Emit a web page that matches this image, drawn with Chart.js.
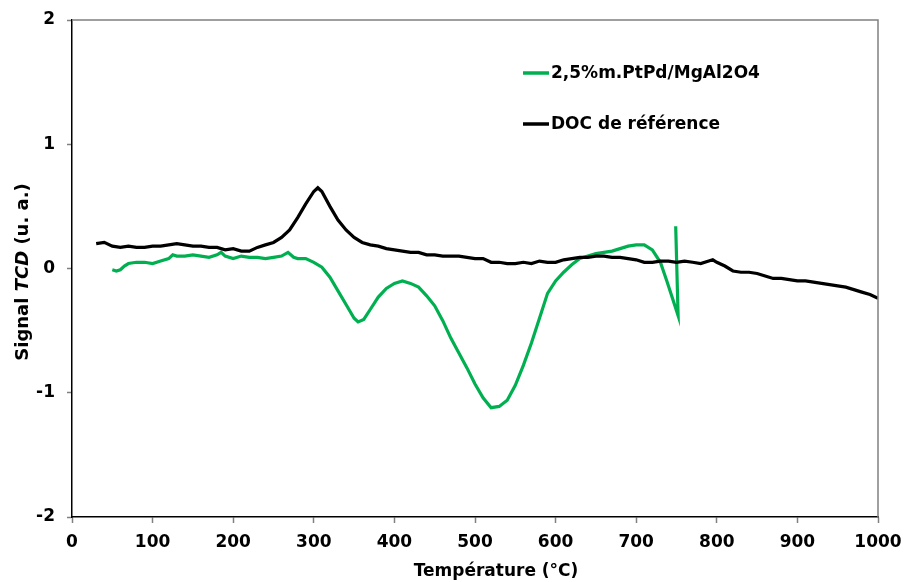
<!DOCTYPE html>
<html>
<head>
<meta charset="utf-8">
<script src="https://cdn.jsdelivr.net/npm/chart.js@4.4.0/dist/chart.umd.min.js"></script>
<style>
  html, body { margin: 0; padding: 0; background: #ffffff; }
  #wrap { width: 904px; height: 582px; position: relative; }
</style>
</head>
<body>
<div id="wrap"><canvas id="myChart"></canvas></div>
<script>
// values
var docTemp = [30, 40, 50, 60, 70, 80, 90, 100, 110, 120, 130, 140, 150, 160, 170, 180, 190, 200,
  210, 220, 230, 240, 250, 260, 270, 280, 290, 300, 305, 310, 320, 330, 340, 350, 360, 370, 380,
  390, 400, 410, 420, 430, 440, 450, 460, 470, 480, 490, 500, 510, 520, 530, 540, 550, 560, 570,
  580, 590, 600, 610, 620, 630, 640, 650, 660, 670, 680, 690, 700, 710, 720, 730, 740, 750, 760,
  770, 780, 790, 795, 800, 810, 820, 830, 840, 850, 860, 870, 880, 890, 900, 910, 920, 930, 940,
  950, 960, 970, 980, 990, 1000];
var docSignal = [0.20, 0.21, 0.18, 0.17, 0.18, 0.17, 0.17, 0.18, 0.18, 0.19, 0.20, 0.19, 0.18, 0.18,
  0.17, 0.17, 0.15, 0.16, 0.14, 0.14, 0.17, 0.19, 0.21, 0.25, 0.31, 0.41, 0.52, 0.62, 0.65, 0.62,
  0.50, 0.39, 0.31, 0.25, 0.21, 0.19, 0.18, 0.16, 0.15, 0.14, 0.13, 0.13, 0.11, 0.11, 0.10, 0.10,
  0.10, 0.09, 0.08, 0.08, 0.05, 0.05, 0.04, 0.04, 0.05, 0.04, 0.06, 0.05, 0.05, 0.07, 0.08, 0.09,
  0.09, 0.10, 0.10, 0.09, 0.09, 0.08, 0.07, 0.05, 0.05, 0.06, 0.06, 0.05, 0.06, 0.05, 0.04, 0.06,
  0.07, 0.05, 0.02, -0.02, -0.03, -0.03, -0.04, -0.06, -0.08, -0.08, -0.09, -0.10, -0.10, -0.11,
  -0.12, -0.13, -0.14, -0.15, -0.17, -0.19, -0.21, -0.24];

var ptpdTemp = [50, 55, 60, 65, 70, 80, 90, 100, 110, 120, 125, 130, 140, 150, 160, 170, 180, 185,
  190, 200, 210, 220, 230, 240, 250, 260, 268, 275, 280, 290, 300, 310, 320, 330, 340, 350, 355,
  362, 370, 380, 390, 400, 410, 420, 430, 440, 450, 460, 470, 480, 490, 500, 510, 520, 530, 540,
  550, 560, 570, 580, 590, 600, 610, 620, 630, 640, 650, 660, 670, 680, 690, 700, 710, 720, 730,
  738, 745, 752, 749];
var ptpdSignal = [-0.01, -0.02, -0.01, 0.02, 0.04, 0.05, 0.05, 0.04, 0.06, 0.08, 0.11, 0.10, 0.10,
  0.11, 0.10, 0.09, 0.11, 0.13, 0.10, 0.08, 0.10, 0.09, 0.09, 0.08, 0.09, 0.10, 0.13, 0.09, 0.08,
  0.08, 0.05, 0.01, -0.07, -0.18, -0.29, -0.40, -0.43, -0.41, -0.33, -0.23, -0.16, -0.12, -0.10,
  -0.12, -0.15, -0.22, -0.30, -0.42, -0.56, -0.68, -0.80, -0.93, -1.04, -1.12, -1.11, -1.06, -0.94,
  -0.78, -0.60, -0.40, -0.20, -0.10, -0.03, 0.03, 0.08, 0.10, 0.12, 0.13, 0.14, 0.16, 0.18, 0.19,
  0.19, 0.15, 0.05, -0.10, -0.24, -0.38, 0.34];

var seriesNames = ['2,5%m.PtPd/MgAl2O4', 'DOC de référence'];
var seriesColors = ['#00b050', '#000000'];
var xTitle = 'Température (°C)';
var yTitleParts = ['Signal ', 'TCD', ' (u. a.)'];

var FONT = "'DejaVu Sans', Verdana, sans-serif";

function toPoints(xs, ys) {
  var pts = [];
  for (var i = 0; i < xs.length; i++) {
    pts.push({ x: xs[i], y: ys[i] });
  }
  return pts;
}

// frame, axis titles and the legend drawn inside the plot
var decorations = {
  id: 'decorations',
  afterDraw: function(chart) {
    var ctx = chart.ctx;
    var a = chart.chartArea;
    ctx.save();

    // top and right border
    ctx.strokeStyle = '#808080';
    ctx.lineWidth = 1.5;
    ctx.beginPath();
    ctx.moveTo(a.left, a.top);
    ctx.lineTo(a.right, a.top);
    ctx.lineTo(a.right, a.bottom);
    ctx.stroke();

    ctx.fillStyle = '#000000';
    ctx.textBaseline = 'middle';

    // x title
    ctx.font = 'bold 17px ' + FONT;
    ctx.textAlign = 'center';
    ctx.fillText(xTitle, 496, 572);

    // y title, with TCD in italic
    var fonts = ['bold 18px ' + FONT, 'italic bold 18px ' + FONT, 'bold 18px ' + FONT];
    var widths = [];
    var total = 0;
    for (var i = 0; i < yTitleParts.length; i++) {
      ctx.font = fonts[i];
      widths.push(ctx.measureText(yTitleParts[i]).width);
      total += widths[i];
    }
    ctx.translate(23, 272);
    ctx.rotate(-Math.PI / 2);
    ctx.textAlign = 'left';
    var pos = -total / 2;
    for (var i = 0; i < yTitleParts.length; i++) {
      ctx.font = fonts[i];
      ctx.fillText(yTitleParts[i], pos, 0);
      pos += widths[i];
    }
    ctx.setTransform(1, 0, 0, 1, 0, 0);

    // legend
    var rows = [73, 124];
    ctx.font = 'bold 17px ' + FONT;
    ctx.textAlign = 'left';
    ctx.lineWidth = 3.5;
    for (var i = 0; i < seriesNames.length; i++) {
      ctx.strokeStyle = seriesColors[i];
      ctx.beginPath();
      ctx.moveTo(523, rows[i]);
      ctx.lineTo(549, rows[i]);
      ctx.stroke();
      ctx.fillText(seriesNames[i], 551, rows[i] + 1);
    }
    ctx.restore();
  }
};

var tickFont = { family: FONT, size: 17, weight: 'bold' };

var chart = new Chart(document.getElementById('myChart'), {
  type: 'scatter',
  data: {
    datasets: [
      {
        label: seriesNames[1],
        data: toPoints(docTemp, docSignal),
        showLine: true,
        borderColor: seriesColors[1],
        borderWidth: 3.2,
        pointRadius: 0,
        fill: false
      },
      {
        label: seriesNames[0],
        data: toPoints(ptpdTemp, ptpdSignal),
        showLine: true,
        borderColor: seriesColors[0],
        borderWidth: 3.2,
        pointRadius: 0,
        fill: false
      }
    ]
  },
  options: {
    animation: false,
    responsive: true,
    maintainAspectRatio: false,
    events: [],
    layout: {
      padding: { top: 20, right: 26, left: 0, bottom: 0 }
    },
    scales: {
      x: {
        type: 'linear',
        min: 0,
        max: 1000,
        afterFit: function(scale) {
          scale.height = 65;
          scale.paddingLeft = 0;
          scale.paddingRight = 0;
        },
        ticks: {
          stepSize: 100,
          color: '#000000',
          font: tickFont,
          padding: 9,
          maxRotation: 0,
          callback: (value) => String(value)
        },
        grid: {
          drawOnChartArea: false,
          drawTicks: true,
          tickLength: 6,
          tickColor: '#808080',
          tickWidth: 1.5
        },
        border: { color: '#000000', width: 1.5 }
      },
      y: {
        type: 'linear',
        min: -2,
        max: 2,
        afterFit: function(scale) {
          scale.width = 72;
          scale.paddingTop = 0;
          scale.paddingBottom = 0;
        },
        ticks: {
          stepSize: 1,
          color: '#000000',
          font: tickFont,
          padding: 12,
          callback: (value) => String(value)
        },
        grid: {
          drawOnChartArea: false,
          drawTicks: true,
          tickLength: 5,
          tickColor: '#808080',
          tickWidth: 1.5
        },
        border: { color: '#000000', width: 1.5 }
      }
    },
    plugins: {
      legend: { display: false },
      tooltip: { enabled: false }
    }
  },
  plugins: [decorations]
});
</script>
</body>
</html>
